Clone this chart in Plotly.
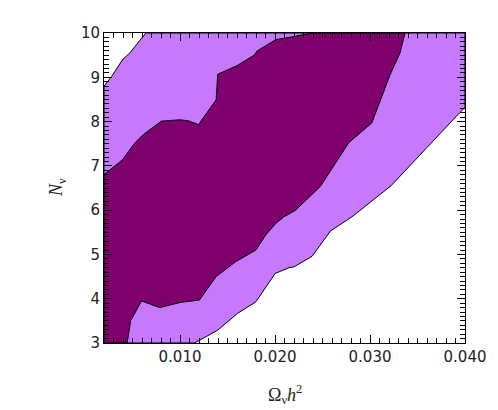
import plotly.graph_objects as go

# 95% (outer) and 68% (inner) confidence regions, vertices
outer_x = [0.002, 0.002, 0.00281, 0.00396, 0.00472, 0.0064, 0.040, 0.040,
           0.03909, 0.03595, 0.03221, 0.02810, 0.02584, 0.02391, 0.02200,
           0.02147, 0.02001, 0.01799, 0.01606, 0.01397, 0.01205, 0.01153]
outer_y = [3.0, 8.80, 9.02, 9.40, 9.55, 10.0, 10.0, 8.32,
           8.12, 7.40, 6.55, 5.85, 5.53, 4.96, 4.72,
           4.70, 4.57, 3.93, 3.67, 3.29, 3.07, 3.0]

inner_x = [0.002, 0.002, 0.00396, 0.00525, 0.00611, 0.00804, 0.00996, 0.01082,
           0.01198, 0.01223, 0.01380, 0.01397, 0.01589, 0.01781, 0.01815,
           0.02008, 0.02147, 0.02391, 0.03369, 0.03316, 0.03212, 0.03107,
           0.03019, 0.02775, 0.02479, 0.02218, 0.02095, 0.02008, 0.01903,
           0.01799, 0.01746, 0.01589, 0.01380, 0.01205, 0.01013, 0.00786,
           0.00595, 0.00480, 0.00444]
inner_y = [3.0, 6.80, 7.14, 7.52, 7.70, 8.01, 8.04, 8.02,
           7.93, 8.02, 8.49, 9.07, 9.25, 9.50, 9.60,
           9.85, 9.90, 10.0, 10.0, 9.55, 9.06, 8.49,
           7.97, 7.52, 6.54, 6.00, 5.85, 5.70, 5.44,
           5.10, 5.03, 4.84, 4.50, 3.97, 3.92, 3.80,
           3.95, 3.50, 3.0]

x_range = [0.002, 0.040]
y_range = [3, 10]
x_step, x_minor = 0.010, 0.001
y_step, y_minor = 1, 0.1
x_title = 'Ω<sub>ν</sub><i>h</i><sup>2</sup>'
y_title = '<i>N</i><sub>ν</sub>'

light = '#C678FF'
dark = '#80006E'

fig = go.Figure()
fig.add_trace(go.Scatter(x=outer_x + outer_x[:1], y=outer_y + outer_y[:1], fill='toself',
                         fillcolor=light, mode='lines', line=dict(color='black', width=1),
                         showlegend=False))
fig.add_trace(go.Scatter(x=inner_x + inner_x[:1], y=inner_y + inner_y[:1], fill='toself',
                         fillcolor=dark, mode='lines', line=dict(color='black', width=1),
                         showlegend=False))

tick_font = dict(family='DejaVu Sans', size=15, color='#222222')
title_font = dict(family='Liberation Serif', size=18, color='#222222')

fig.update_layout(
    width=498, height=410, margin=dict(l=104, r=31, t=33, b=67),
    plot_bgcolor='white',
    xaxis=dict(range=x_range, dtick=x_step, tick0=0, tickformat='.3f',
               ticks='inside', ticklen=8, tickwidth=1, tickcolor='black',
               minor=dict(dtick=x_minor, ticks='inside', ticklen=5, tickcolor='black'),
               showline=True, mirror='allticks', linecolor='black',
               showgrid=False, zeroline=False, tickfont=tick_font),
    yaxis=dict(range=y_range, dtick=y_step, tick0=0,
               ticks='inside', ticklen=8, tickwidth=1, tickcolor='black',
               minor=dict(dtick=y_minor, ticks='inside', ticklen=5, tickcolor='black'),
               showline=True, mirror='allticks', linecolor='black',
               showgrid=False, zeroline=False, tickfont=tick_font),
    annotations=[
        dict(text=x_title, xref='paper', yref='paper', x=0.5, y=-0.12, yanchor='top',
             showarrow=False, font=title_font),
        dict(text=y_title, xref='paper', yref='paper', x=-0.13, y=0.5, xanchor='center',
             textangle=-90, showarrow=False, font=title_font),
    ],
)

fig.write_html("out.html", config={'displayModeBar': False},
               post_script="document.body.style.margin='0px';")
